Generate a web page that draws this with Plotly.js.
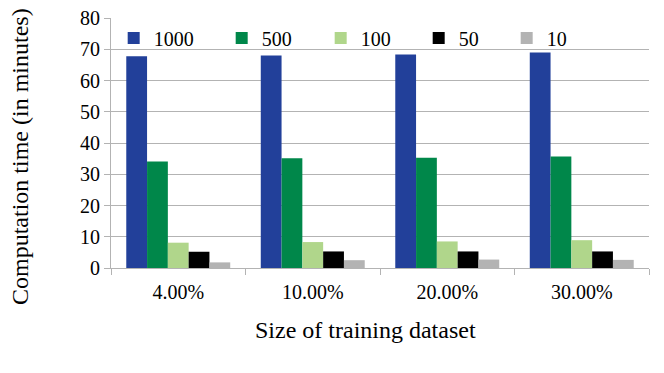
<!DOCTYPE html>
<html>
<head>
<meta charset="utf-8">
<script src="https://cdn.plot.ly/plotly-3.0.1.min.js"></script>
<style>
  body { margin: 0; background: #fff; }
  #plotArea { width: 664px; height: 373px; }
</style>
</head>
<body>
<div id="plotArea"></div>
<script>
// training set sizes on the x axis
var categories = ["4.00%", "10.00%", "20.00%", "30.00%"];

// computation time in minutes, one array per series
var series1000 = [67.8, 68.0, 68.3, 69.0];
var series500 = [34.1, 35.1, 35.3, 35.7];
var series100 = [8.1, 8.3, 8.5, 8.9];
var series50 = [5.2, 5.3, 5.3, 5.3];
var series10 = [1.8, 2.5, 2.7, 2.6];

var seriesNames = ["1000", "500", "100", "50", "10"];
var yTicks = [0, 10, 20, 30, 40, 50, 60, 70, 80];

var colors = ["#22409a", "#00874a", "#b0d68b", "#000000", "#b3b3b3"];
var entryWidths = [63, 54, 53, 43, 40];
var values = [series1000, series500, series100, series50, series10];

var data = [];
for (var i = 0; i < values.length; i++) {
    data.push({
        x: categories,
        y: values[i],
        name: seriesNames[i],
        type: "bar",
        marker: {color: colors[i], line: {width: 0}},
        legendwidth: entryWidths[i],
        hoverinfo: "x+y+name"
    });
}

var serif = "Liberation Serif, Times New Roman, serif";

// plot area is 111..649 x 18..268 px; titles placed in paper coords from that box
var plotL = 111, plotW = 538, plotT = 18, plotH = 250;

var layout = {
    width: 664,
    height: 373,
    margin: {l: plotL, r: 664 - plotL - plotW, t: plotT, b: 373 - plotT - plotH},
    paper_bgcolor: "#ffffff",
    plot_bgcolor: "#ffffff",
    font: {family: serif, size: 20, color: "#000000"},
    barmode: "group",
    bargap: 0.227,
    bargroupgap: 0,
    showlegend: true,
    legend: {
        orientation: "h",
        x: 0.005,
        xanchor: "left",
        y: 0.92,
        yanchor: "middle",
        bgcolor: "rgba(0,0,0,0)",
        font: {family: serif, size: 20, color: "#000000"},
        traceorder: "normal"
    },
    xaxis: {
        type: "category",
        showline: true,
        linecolor: "#b3b3b3",
        linewidth: 1,
        ticks: "outside",
        tickson: "boundaries",
        ticklen: 6,
        tickcolor: "#b3b3b3",
        tickfont: {family: serif, size: 20},
        ticklabelstandoff: 6,
        showgrid: false,
        automargin: false
    },
    yaxis: {
        range: [0, 80],
        tickvals: yTicks,
        ticks: "outside",
        ticklen: 6,
        tickcolor: "#b3b3b3",
        tickfont: {family: serif, size: 20},
        showline: true,
        linecolor: "#b3b3b3",
        linewidth: 1,
        showgrid: true,
        gridcolor: "#b3b3b3",
        gridwidth: 1,
        zeroline: false,
        automargin: false
    },
    annotations: [
        {
            text: "Size of training dataset",
            xref: "paper", yref: "paper",
            x: (365 - plotL) / plotW,
            y: (plotT + plotH - 330) / plotH,
            xanchor: "center", yanchor: "middle",
            showarrow: false,
            font: {family: serif, size: 24, color: "#000000"}
        },
        {
            text: "Computation time (in minutes)",
            xref: "paper", yref: "paper",
            x: (20 - plotL) / plotW,
            y: (plotT + plotH - 157) / plotH,
            xanchor: "center", yanchor: "middle",
            textangle: -90,
            showarrow: false,
            font: {family: serif, size: 24, color: "#000000"}
        }
    ]
};

Plotly.newPlot("plotArea", data, layout, {displayModeBar: false, staticPlot: true});
</script>
</body>
</html>
